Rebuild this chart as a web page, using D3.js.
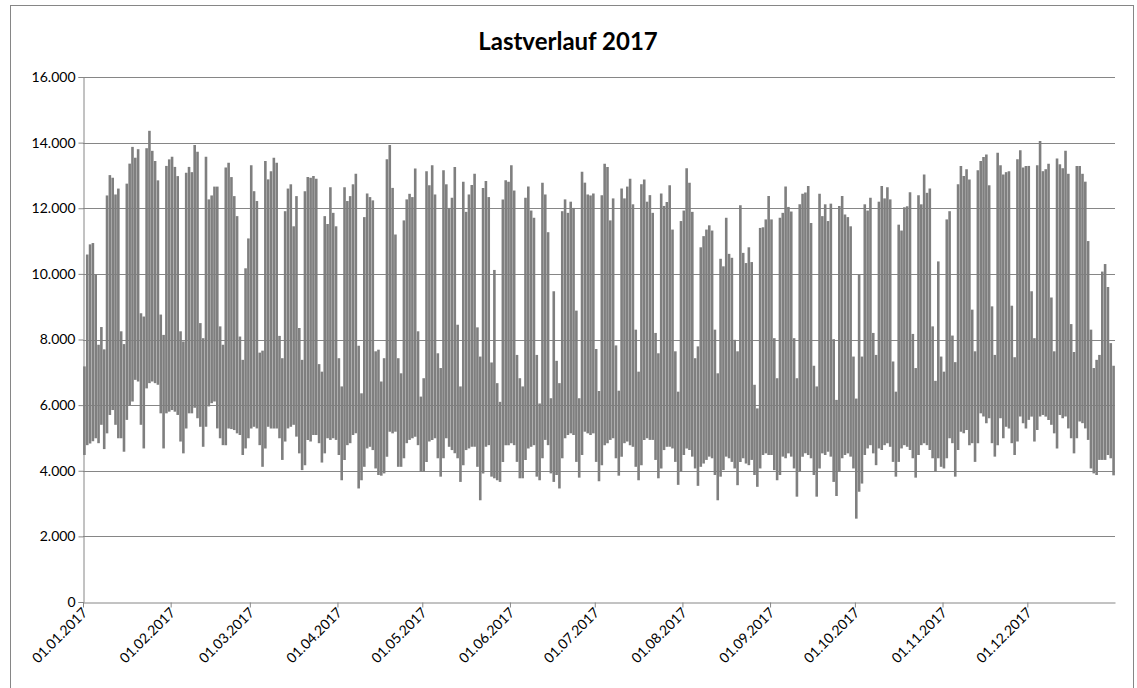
<!DOCTYPE html>
<html>
<head>
<meta charset="utf-8">
<script src="https://cdn.jsdelivr.net/npm/d3@7"></script>
<style>
  html, body { margin: 0; padding: 0; background: #fff; }
  svg { display: block; }
</style>
</head>
<body>
<svg id="chart" width="1137" height="688"></svg>
<script>
const title = "Lastverlauf 2017";
const yTicks = [0, 2000, 4000, 6000, 8000, 10000, 12000, 14000, 16000];
const xTickLabels = ["01.01.2017","01.02.2017","01.03.2017","01.04.2017","01.05.2017","01.06.2017","01.07.2017","01.08.2017","01.09.2017","01.10.2017","01.11.2017","01.12.2017"];

// daily maximum load (one value per day, Jan 1 .. Dec 31, 2017)
const dailyMax = [
  // Jan
  7180,10590,10900,10940,9980,7840,8380,7700,12390,13010,12930,12420,12600,8250,7860,12750,13360,13870,13540,13800,8800,8700,13830,14360,13750,13440,12850,8760,8140,13290,13490,
  // Feb
  13570,13260,12980,8250,7940,13080,13260,13100,13930,13720,8500,8040,13570,12270,12390,12660,12660,8400,7840,13240,13390,12950,12370,11760,8090,7380,10170,11080,
  // Mar
  13310,12520,12220,7600,7660,13440,12880,13130,13540,13390,8110,7430,11910,12600,12730,11450,12370,8350,7380,12520,12950,12930,12980,12900,7250,7020,11760,11520,12640,11860,11450,
  // Apr
  7430,6570,12640,12220,12370,12730,13050,7810,6360,11730,12450,12340,12240,7640,7690,6720,7430,13490,13930,12620,11200,7430,6970,11630,12270,12440,12340,13210,8250,6260,
  // May
  6820,13130,12700,13310,12420,7580,7130,13160,12730,12010,12320,13260,8450,6570,12810,11890,12420,12710,13050,8370,7480,12620,12830,12340,7300,10120,6670,6100,12270,12850,12810,
  // Jun
  13310,12540,7530,6820,6570,12320,12660,11930,11710,7530,6050,12780,12420,11270,6210,9470,7350,6670,11910,12270,11860,12200,12010,8880,6210,13110,12780,12420,12390,12450,
  // Jul
  7710,6430,12400,13360,13260,11630,12300,7820,6440,12600,12300,12660,12900,12120,8300,7020,12730,12880,12200,12400,11860,8200,7580,12450,12070,12190,12700,11350,7640,6410,11610,
  // Aug
  11930,13220,12780,11890,7430,7790,10810,11150,11350,11480,11320,8300,6970,10460,10230,11710,10610,10490,7990,7640,12090,10640,10330,10810,10360,6620,5900,11400,11420,11660,12370,
  // Sep
  11660,8040,6820,11710,11860,12660,12040,11900,8040,6820,12120,12440,12480,12680,11550,7200,6570,12440,11760,12120,11610,12140,8010,6160,12070,12370,11810,11730,11450,7480,
  // Oct
  6200,9970,7480,12120,11930,12320,8200,7530,12200,12680,12300,12640,12270,7330,6410,11500,11320,12030,12060,12490,8170,7130,12400,12120,13030,12470,12600,8400,6740,10380,7480,
  // Nov
  7020,11660,11910,8120,7310,12730,13290,12980,13190,12880,8910,7640,13160,13440,13560,13640,12700,9010,7530,13690,13310,13030,13100,13130,9030,7460,13490,13770,13240,13290,
  // Dec
  13290,9470,8040,13310,14050,13130,13190,13360,9280,7640,13520,13340,13220,13750,13050,8470,7620,13290,13290,13050,12810,11000,8300,7130,7380,7530,10070,10300,9600,7890,7200
];

// daily minimum load
const dailyMin = [
  // Jan
  4480,4780,4830,4900,4990,4840,5400,4660,5140,5700,5850,5400,4990,4990,4580,5550,6000,6110,6770,6720,5400,4680,6510,6670,6720,6670,6620,5750,4680,5750,5800,
  // Feb
  5850,5800,5700,4890,4530,5290,5750,5750,5920,5600,5340,4730,5340,5960,6060,6110,5290,4990,4780,4780,5290,5270,5240,5140,5090,4480,4680,4990,
  // Mar
  5290,5340,5290,4780,4120,4680,5340,5290,5290,5290,4990,4330,4890,5290,5340,5400,5040,4530,4020,4170,4940,4890,5090,5090,4840,4250,4530,4990,4940,4990,4940,
  // Apr
  4480,3710,4330,4780,4840,5090,5140,3460,3710,4120,4680,4730,4630,4070,3870,3850,3920,4430,5190,5140,5190,4120,4120,4380,4840,4940,4990,5040,4780,3970,
  // May
  3970,4270,4890,4940,4990,4380,3820,4380,4990,4730,4630,4530,4380,3660,4170,4630,4680,4730,4730,4120,3100,3920,4730,4780,3820,3770,3710,3660,4270,4780,4780,
  // Jun
  4840,4780,4270,3770,3770,4330,4680,4730,4780,3820,3710,4380,4940,4780,3920,3660,3870,3460,4380,4990,5090,5140,5090,4270,3790,4480,5190,5140,5090,5140,
  // Jul
  4270,3680,4170,4780,4840,4940,4990,4380,3850,4430,4840,4890,4780,4730,4120,3710,4170,4940,4990,4940,4940,4330,3770,4070,4630,4730,4730,4680,4270,3570,3970,
  // Aug
  4480,4680,4630,4430,4070,3540,4120,4220,4330,4430,4380,3870,3100,3820,4020,4430,4380,4270,4070,3560,4270,4380,4220,4170,4330,3870,3510,4070,4480,4530,4480,
  // Sep
  4480,4020,3710,3870,4430,4380,4530,4430,4070,3210,3970,4430,4530,4480,4380,3870,3210,4070,4530,4480,4580,4430,3660,3230,3970,4380,4480,4530,4430,4070,
  // Oct
  2540,3360,3610,4480,4680,4780,4530,4170,4680,4630,4780,4840,4730,4270,3820,4270,4680,4780,4730,4630,4380,3790,4480,4780,4840,4780,4630,4380,3970,4380,4120,
  // Nov
  4070,4380,4990,4840,3820,4630,5190,5140,5240,4780,4840,4270,4840,5750,5650,5450,5600,4840,4430,4780,5600,4990,5340,5290,4840,4480,4890,5650,5450,5290,
  // Dec
  5550,5650,4890,5240,5650,5700,5650,5550,5400,5140,4680,5700,5600,5650,5290,4990,4530,4990,5500,5450,5290,4940,4070,3920,3870,4330,4330,4330,4480,4380,3860
];

const svg = d3.select("#chart");
const W = 1137, H = 688;
const m = { left: 83, right: 22, top: 77, bottom: 86 };

// outer chart border (partly cropped like the reference)
svg.append("rect").attr("x", 10.5).attr("y", 5.5).attr("width", W - 14).attr("height", H + 10)
  .attr("fill", "#fff").attr("stroke", "#868686").attr("stroke-width", 1);

const start = new Date(2017, 0, 1), end = new Date(2018, 0, 1);
const x = d3.scaleTime().domain([start, end]).range([m.left, W - m.right]);
const y = d3.scaleLinear().domain([0, 16000]).range([H - m.bottom, m.top]);

const fmt = v => d3.format(",")(v).replace(/,/g, ".");
const font = "Lato, 'Liberation Sans', sans-serif";

// gridlines
svg.append("g").selectAll("line").data(yTicks.filter(d => d > 0)).join("line")
  .attr("x1", m.left).attr("x2", W - m.right)
  .attr("y1", d => Math.round(y(d)) + 0.5).attr("y2", d => Math.round(y(d)) + 0.5)
  .attr("stroke", "#868686").attr("stroke-width", 1);

// y axis
const yAxis = d3.axisLeft(y).tickValues(yTicks).tickFormat(fmt).tickSize(5).tickPadding(3);
const gy = svg.append("g").attr("transform", `translate(${m.left + 0.5},0)`).call(yAxis);
gy.select(".domain").attr("stroke", "#868686");
gy.selectAll(".tick line").attr("stroke", "#868686");
gy.selectAll(".tick text").attr("font-family", font).attr("font-size", 14).attr("fill", "#000");

// data bars (daily range)
const days = d3.range(365).map(i => ({ date: d3.timeDay.offset(start, i), max: dailyMax[i], min: dailyMin[i] }));
const dayW = x(d3.timeDay.offset(start, 1)) - x(start);
svg.append("g").selectAll("line").data(days).join("line")
  .attr("x1", d => x(d.date) + dayW * 0.5).attr("x2", d => x(d.date) + dayW * 0.5)
  .attr("y1", d => y(d.min)).attr("y2", d => y(d.max))
  .attr("stroke", "#7f7f7f").attr("stroke-width", 2.6);

// x axis
const monthTicks = d3.range(12).map(i => new Date(2017, i, 1));
const xAxis = d3.axisBottom(x).tickValues(monthTicks).tickFormat((d, i) => xTickLabels[i]).tickSize(5).tickSizeOuter(0);
const gx = svg.append("g").attr("transform", `translate(0,${Math.round(y(0)) + 0.5})`).call(xAxis);
gx.select(".domain").attr("stroke", "#868686");
gx.selectAll(".tick line").attr("stroke", "#868686");
gx.selectAll(".tick text")
  .attr("font-family", font).attr("font-size", 14).attr("fill", "#000")
  .attr("text-anchor", "end").attr("dy", null).attr("y", 0)
  .attr("transform", "translate(5,11) rotate(-45)");

// title
svg.append("text").attr("x", 568).attr("y", 50).attr("text-anchor", "middle")
  .attr("font-family", font).attr("font-weight", "bold")
  .attr("font-size", 24).attr("fill", "#000").text(title);
</script>
</body>
</html>
